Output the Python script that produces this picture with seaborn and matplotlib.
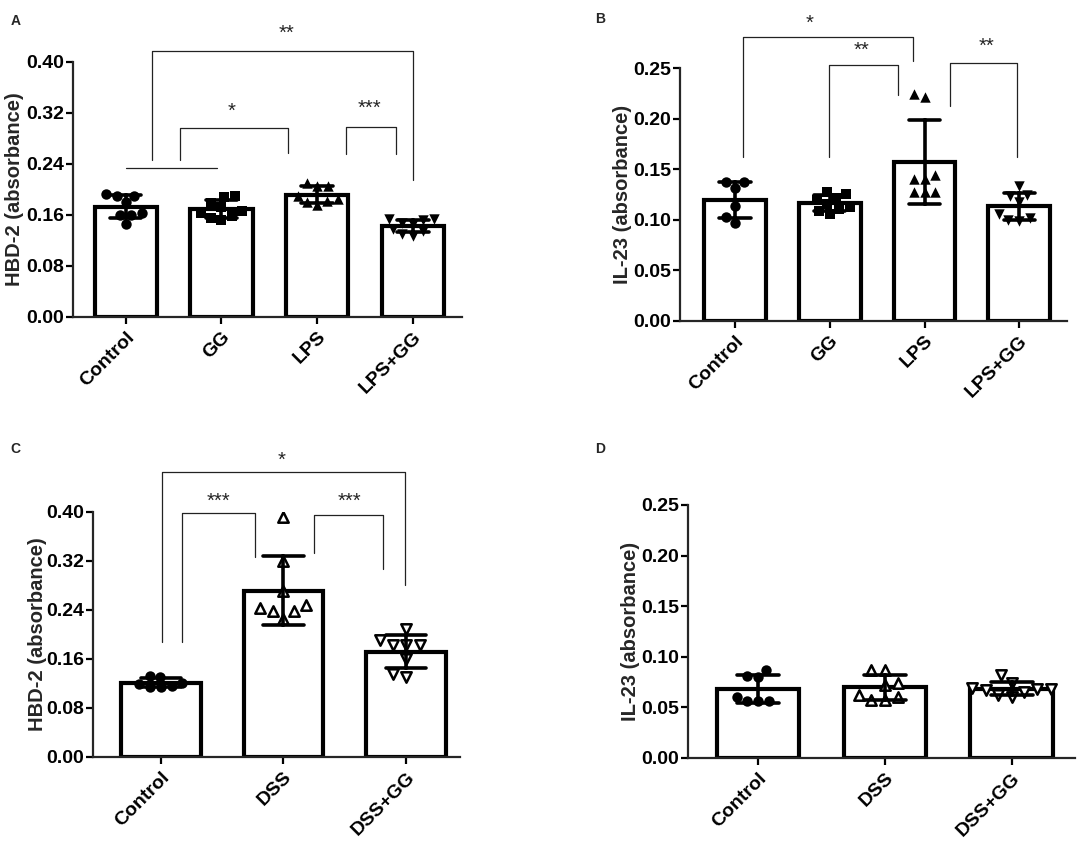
import numpy as np
import pandas as pd
import seaborn as sns
import matplotlib.pyplot as plt
from matplotlib.ticker import FormatStrFormatter

sns.set_theme(style='ticks')
plt.rcParams['font.family'] = ['Liberation Sans', 'DejaVu Sans']

groups_ab = ['Control', 'GG', 'LPS', 'LPS+GG']
groups_cd = ['Control', 'DSS', 'DSS+GG']

# A: HBD-2 (cells)
hbd2_control = [0.190, 0.190, 0.192, 0.180, 0.159, 0.162, 0.159, 0.145]
hbd2_gg = [0.190, 0.188, 0.178, 0.172, 0.165, 0.162, 0.158, 0.155, 0.152]
hbd2_lps = [0.210, 0.205, 0.205, 0.190, 0.185, 0.182, 0.180, 0.175]
hbd2_lps_gg = [0.153, 0.153, 0.152, 0.147, 0.145, 0.138, 0.135, 0.130, 0.127]

# B: IL-23 (cells)
il23_control = [0.137, 0.137, 0.131, 0.114, 0.103, 0.097]
il23_gg = [0.128, 0.126, 0.122, 0.120, 0.116, 0.113, 0.111, 0.109, 0.106]
il23_lps = [0.222, 0.225, 0.144, 0.140, 0.140, 0.128, 0.128, 0.128]
il23_lps_gg = [0.125, 0.133, 0.124, 0.118, 0.100, 0.106, 0.099, 0.102]

# C: HBD-2 (DSS)
hbd2_dss_control = [0.131, 0.130, 0.121, 0.118, 0.116, 0.114, 0.113]
hbd2_dss = [0.391, 0.320, 0.271, 0.248, 0.242, 0.237, 0.237, 0.224]
hbd2_dss_gg = [0.209, 0.190, 0.183, 0.183, 0.183, 0.160, 0.130, 0.135]

# D: IL-23 (DSS)
il23_dss_control = [0.087, 0.081, 0.080, 0.060, 0.056, 0.056, 0.056]
il23_dss = [0.087, 0.087, 0.072, 0.074, 0.057, 0.060, 0.057, 0.062]
il23_dss_gg = [0.082, 0.065, 0.074, 0.069, 0.068, 0.068, 0.067, 0.062, 0.060]

# significance brackets: x1, x2, top, left foot, right foot, stars, text x, text y
brackets_a = [(0.27, 3.0, 0.416, 0.246, 0.214, '**', 1.68, 0.445),
              (0.57, 1.69, 0.296, 0.246, 0.256, '*', 1.10, 0.322),
              (2.30, 2.82, 0.298, 0.255, 0.255, '***', 2.54, 0.327)]
brackets_b = [(0.09, 1.88, 0.281, 0.1625, 0.257, '*', 0.79, 0.295),
              (0.99, 1.72, 0.253, 0.1625, 0.224, '**', 1.34, 0.268),
              (2.27, 2.98, 0.255, 0.213, 0.1625, '**', 2.65, 0.272)]
brackets_c = [(0.01, 1.99, 0.464, 0.187, 0.280, '*', 0.985, 0.483),
              (0.17, 0.77, 0.397, 0.187, 0.3265, '***', 0.47, 0.417),
              (1.25, 1.815, 0.3946, 0.333, 0.306, '***', 1.54, 0.417)]


def panel(ax, groups, values, markers, hollow, ylabel, yticks, xlim, brackets):
    df = pd.DataFrame({'group': np.repeat(groups, [len(v) for v in values]),
                       'value': np.concatenate(values)})
    sns.barplot(data=df, x='group', y='value', order=groups, errorbar='sd',
                capsize=0.33, width=0.65, color='white', edgecolor='black',
                linewidth=3.0, err_kws={'color': 'black', 'linewidth': 2.6}, ax=ax)
    for ln in ax.lines:
        ln.set_zorder(4)
    for g, m, h in zip(groups, markers, hollow):
        sub = df[df.group == g]
        if h:
            sns.swarmplot(data=sub, x='group', y='value', order=groups, marker=m,
                          size=7.5, color='white', edgecolor='black', linewidth=1.8, ax=ax)
        else:
            sns.swarmplot(data=sub, x='group', y='value', order=groups, marker=m,
                          size=7.5, color='black', ax=ax)
    for c in ax.collections:
        c.set_zorder(3)
    for x1, x2, yt, yl, yr, s, tx, ty in brackets:
        ax.plot([x1, x1, x2, x2], [yl, yt, yt, yr], color='#222222', lw=0.9, clip_on=False)
        ax.text(tx, ty, s, ha='center', va='center', fontsize=14.5, clip_on=False)
    ax.set_xlim(*xlim)
    ax.set_ylim(yticks[0], yticks[-1])
    ax.set_yticks(yticks)
    ax.yaxis.set_major_formatter(FormatStrFormatter('%.2f'))
    ax.set_xlabel('')
    ax.set_ylabel(ylabel, fontsize=14.5, fontweight='bold')
    ax.yaxis.set_label_coords(-0.125, 0.5)
    sns.despine(ax=ax)
    for sp in ax.spines.values():
        sp.set_linewidth(1.6)
    ax.tick_params(width=1.6, length=5, labelsize=14, colors='black')
    ax.tick_params(axis='y', pad=1.5)
    for lbl in ax.get_yticklabels():
        lbl.set_fontweight('bold')
    for lbl in ax.get_xticklabels():
        lbl.set_fontweight('bold')
        lbl.set_rotation(45)
        lbl.set_ha('right')
        lbl.set_va('top')
        lbl.set_rotation_mode('anchor')


fig = plt.figure(figsize=(10.84, 8.46), dpi=100)
ax_a = fig.add_axes([0.0673, 0.6257, 0.3589, 0.3014])
ax_b = fig.add_axes([0.6273, 0.6209, 0.3567, 0.2983])
ax_c = fig.add_axes([0.0861, 0.1056, 0.3383, 0.2896])
ax_d = fig.add_axes([0.6350, 0.1044, 0.3567, 0.2987])

hbd2_ticks = [0.0, 0.08, 0.16, 0.24, 0.32, 0.40]
il23_ticks = [0.0, 0.05, 0.10, 0.15, 0.20, 0.25]

panel(ax_a, groups_ab, [hbd2_control, hbd2_gg, hbd2_lps, hbd2_lps_gg],
      ['o', 's', '^', 'v'], [False] * 4, 'HBD-2 (absorbance)', hbd2_ticks,
      (-0.55, 3.51), brackets_a)
ax_a.plot([0, 0.95], [0.233, 0.233], color='#222222', lw=0.9)

panel(ax_b, groups_ab, [il23_control, il23_gg, il23_lps, il23_lps_gg],
      ['o', 's', '^', 'v'], [False] * 4, 'IL-23 (absorbance)', il23_ticks,
      (-0.58, 3.50), brackets_b)

panel(ax_c, groups_cd, [hbd2_dss_control, hbd2_dss, hbd2_dss_gg],
      ['o', '^', 'v'], [False, True, True], 'HBD-2 (absorbance)', hbd2_ticks,
      (-0.55, 2.44), brackets_c)

panel(ax_d, groups_cd, [il23_dss_control, il23_dss, il23_dss_gg],
      ['o', '^', 'v'], [False, True, True], 'IL-23 (absorbance)', il23_ticks,
      (-0.55, 2.50), [])

for lab, x, y in [('A', 0.010, 0.975), ('B', 0.549, 0.978), ('C', 0.010, 0.469), ('D', 0.549, 0.469)]:
    fig.text(x, y, lab, fontsize=10, fontweight='bold', ha='left', va='center')

fig.savefig('out.png', dpi=100)
